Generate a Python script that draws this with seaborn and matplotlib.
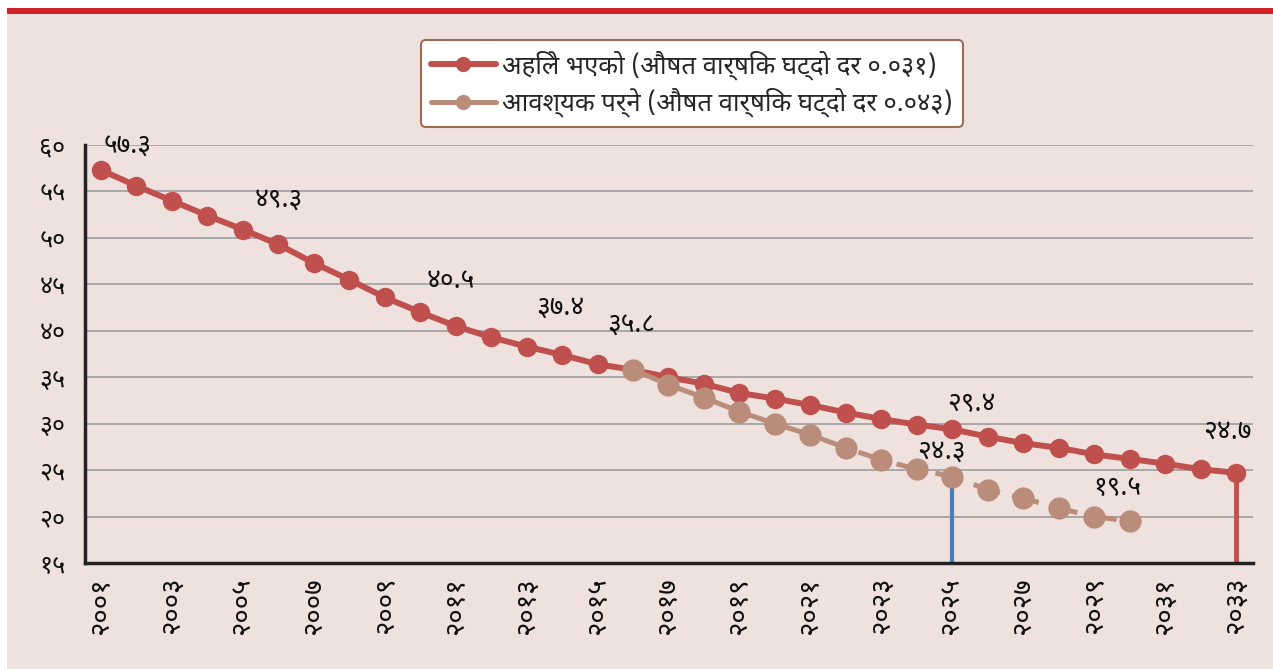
import numpy as np
import pandas as pd
import matplotlib
matplotlib.use("Agg")
import matplotlib.pyplot as plt
import seaborn as sns
from matplotlib.patches import Rectangle

# data
years = list(range(2001, 2034))
actual = [57.3, 55.6, 54.0, 52.4, 50.9, 49.3, 47.3, 45.5, 43.6, 42.0,
          40.5, 39.3, 38.3, 37.4, 36.4, 35.8, 35.0, 34.3, 33.3, 32.7,
          32.0, 31.2, 30.5, 29.9, 29.4, 28.6, 27.9, 27.4, 26.7, 26.2,
          25.7, 25.1, 24.7]
need_years = list(range(2016, 2031))
needed = [35.8, 34.2, 32.8, 31.3, 30.0, 28.8, 27.4, 26.1, 25.1, 24.3,
          22.9, 22.0, 20.9, 20.0, 19.5]

label_actual = "अहिले भएको (औषत वार्षिक घट्दो दर ०.०३१)"
label_needed = "आवश्यक पर्ने (औषत वार्षिक घट्दो दर ०.०४३)"

# which points get a value label
actual_marks = [2001, 2006, 2011, 2014, 2016, 2025, 2033]
needed_marks = [2025, 2030]

DEVA = str.maketrans("0123456789", "०१२३४५६७८९")


def deva(x):
    return str(x).translate(DEVA)


df_a = pd.DataFrame({"year": years, "value": actual})
df_n = pd.DataFrame({"year": need_years, "value": needed})

sns.set_style("white")
plt.rcParams["font.family"] = ["Noto Sans Devanagari", "Mukta", "FreeSans", "DejaVu Sans"]

red = "#C0504D"
tan = "#BA8C7A"
bg = "#EFE2DE"

fig = plt.figure(figsize=(12.73, 6.69), dpi=100)
fig.patch.set_facecolor("white")
fig.patches.append(Rectangle((7 / 1273, 0), 1, 1 - 14 / 669, transform=fig.transFigure,
                             facecolor=bg, edgecolor="none", zorder=-10))
fig.patches.append(Rectangle((7 / 1273, 1 - 14 / 669), 1, 6 / 669, transform=fig.transFigure,
                             facecolor="#D2232A", edgecolor="none", zorder=-10))

ax = fig.add_axes([85 / 1273, 106 / 669, (1253 - 85) / 1273, (563 - 145) / 669])
ax.set_facecolor(bg)

sns.lineplot(data=df_a, x="year", y="value", ax=ax, color=red, linewidth=4.3,
             marker="o", markersize=14, markeredgewidth=0, label=label_actual, zorder=3)
sns.lineplot(data=df_n, x="year", y="value", ax=ax, color=tan, linewidth=3.6,
             linestyle=(0, (5.5, 2.5)), marker="o", markersize=16, markeredgewidth=0,
             label=label_needed, zorder=4)

# vertical drop lines
ax.vlines(2025, 15, 23.6, color="#4A7EBB", linewidth=3, zorder=2)
ax.vlines(2033, 15, actual[-1], color=red, linewidth=3.5, zorder=2)

# value labels
offsets = {2001: (0.75, 2.5), 2006: (0.0, 4.8), 2011: (-0.15, 4.9), 2014: (-0.05, 5.1),
           2016: (-0.05, 4.8), 2025: (0.55, 2.7), 2033: (-0.25, 4.4)}
for yr in actual_marks:
    v = actual[years.index(yr)]
    dx, dy = offsets[yr]
    ax.text(yr + dx, v + dy, deva(v), ha="center", va="center", fontsize=19, color="#111111")
n_off = {2025: (-0.3, 2.7), 2030: (-0.35, 3.6)}
for yr in needed_marks:
    v = needed[need_years.index(yr)]
    dx, dy = n_off[yr]
    ax.text(yr + dx, v + dy, deva(v), ha="center", va="center", fontsize=19, color="#111111")

ax.set_xlim(2000.55, 2033.48)
ax.set_ylim(15, 60)
ax.set_yticks(range(15, 61, 5))
ax.set_yticklabels([deva(t) for t in range(15, 61, 5)], fontsize=18, color="#111111")
ax.set_xticks(range(2001, 2034, 2))
ax.set_xticklabels([deva(t) for t in range(2001, 2034, 2)], fontsize=20, rotation=90,
                   color="#111111")
ax.tick_params(axis="y", length=0, pad=14)
ax.tick_params(axis="x", length=0, pad=10)
ax.set_xlabel("")
ax.set_ylabel("")
ax.yaxis.grid(True, color="#A8A8A8", linewidth=1.4)
ax.set_axisbelow(True)
for s in ["top", "right"]:
    ax.spines[s].set_visible(False)
for s in ["left", "bottom"]:
    ax.spines[s].set_color("#222222")
    ax.spines[s].set_linewidth(2.5)

leg = ax.legend(loc="upper center", bbox_to_anchor=(692 / 1273, 1 - 40 / 669),
                bbox_transform=fig.transFigure, fontsize=18.5, frameon=True, fancybox=True,
                handlelength=2.5, handletextpad=0.25, borderpad=0.4, labelspacing=0.3,
                borderaxespad=0)
leg.get_frame().set_edgecolor("#9E6B55")
leg.get_frame().set_linewidth(1.5)
leg.get_frame().set_facecolor("white")
leg.get_frame().set_alpha(1)
for h in leg.legend_handles:
    h.set_linestyle("-")
    h.set_markersize(11)

fig.savefig("out.png", dpi=100, facecolor=fig.get_facecolor())
